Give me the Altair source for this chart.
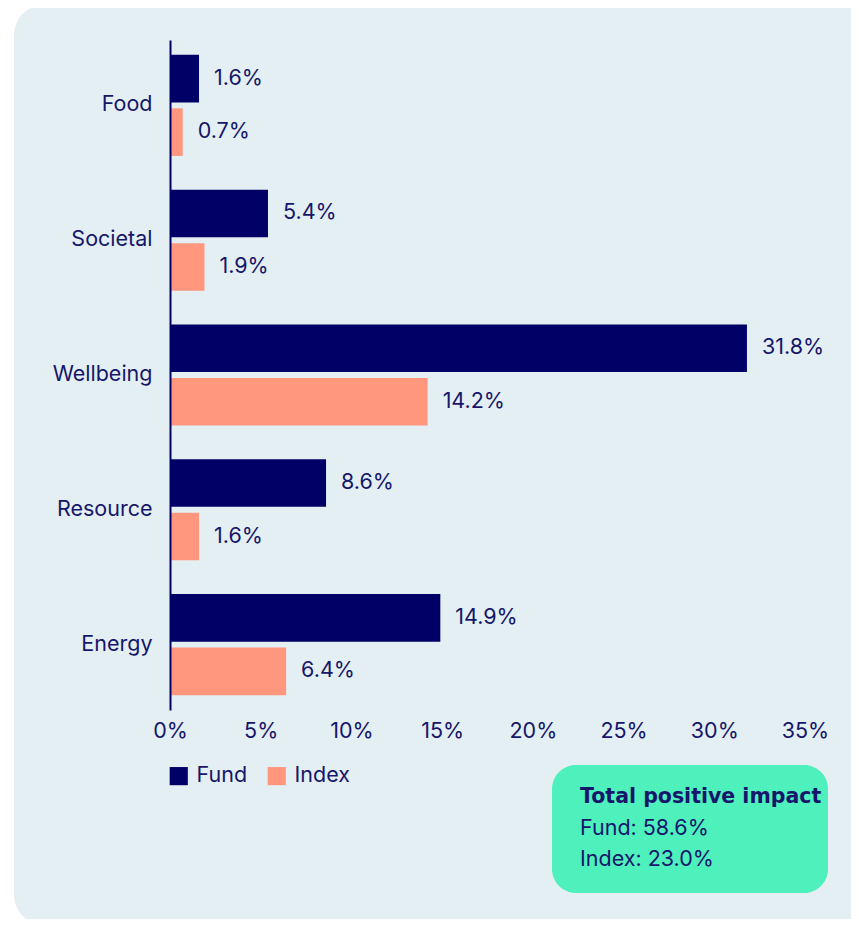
import altair as alt
import pandas as pd

categories = ["Food", "Societal", "Wellbeing", "Resource", "Energy"]
fund_values = [1.6, 5.4, 31.8, 8.6, 14.9]
index_values = [0.7, 1.9, 14.2, 1.6, 6.4]
series_names = ["Fund", "Index"]
x_ticks = [0, 5, 10, 15, 20, 25, 30, 35]
box_lines = ["Total positive impact", "Fund: 58.6%", "Index: 23.0%"]

NAVY = "#000066"
TEXT = "#16166B"
SALMON = "#FF967E"
PANEL = "#E4EFF3"
GREEN = "#4EF0BC"
FONT = "Inter"
FS = 21.5

rows = []
for c, f, i in zip(categories, fund_values, index_values):
    rows.append({"category": c, "series": "Fund", "value": f})
    rows.append({"category": c, "series": "Index", "value": i})
df = pd.DataFrame(rows)

W, H = 635, 670

y_enc = alt.Y("category:N", sort=categories,
              scale=alt.Scale(paddingInner=0.25, paddingOuter=0.11),
              axis=alt.Axis(title=None, labelFontSize=FS, labelColor=TEXT, labelFont=FONT,
                            labelPadding=18, ticks=False, domainColor=NAVY, domainWidth=2,
                            zindex=1))
x_enc = alt.X("value:Q", scale=alt.Scale(domain=[0, 35], nice=False),
              axis=alt.Axis(title=None, values=x_ticks, labelExpr="datum.value + '%'",
                            labelFontSize=FS, labelColor=TEXT, labelFont=FONT,
                            labelFlush=False, labelOverlap=False,
                            domain=False, ticks=False, grid=False, labelPadding=10,
                            zindex=1))
yoff = alt.YOffset("series:N", sort=series_names,
                   scale=alt.Scale(paddingInner=0.11, paddingOuter=0))
color_enc = alt.Color("series:N", sort=series_names,
                      scale=alt.Scale(domain=series_names, range=[NAVY, SALMON]),
                      legend=alt.Legend(title=None, orient="none", legendX=-2, legendY=725,
                                        direction="horizontal", symbolType="square",
                                        symbolSize=330, symbolStrokeWidth=0,
                                        labelFontSize=FS, labelColor=TEXT, labelFont=FONT,
                                        columnPadding=18, labelOffset=7, zindex=1))

base = alt.Chart(df)

panel = alt.Chart(pd.DataFrame({"k": [0]})).mark_rect(
    color=PANEL, cornerRadius=30
).encode(x=alt.value(-156), x2=alt.value(900), y=alt.value(-35), y2=alt.value(885))

bars = base.mark_bar().encode(y=y_enc, x=x_enc, yOffset=yoff, color=color_enc)

labels = base.transform_calculate(
    label="format(datum.value, '.1f') + '%'"
).mark_text(align="left", baseline="middle", dx=15, fontSize=FS, font=FONT, color=TEXT).encode(
    y=alt.Y("category:N", sort=categories), x="value:Q",
    yOffset=alt.YOffset("series:N", sort=series_names), text="label:N")

box = alt.Chart(pd.DataFrame({"k": [0]})).mark_rect(
    color=GREEN, cornerRadius=24
).encode(x=alt.value(382), x2=alt.value(658), y=alt.value(725), y2=alt.value(853))

box_df = pd.DataFrame({"line": box_lines})
box_title = alt.Chart(box_df.iloc[[0]]).mark_text(
    align="left", baseline="middle", fontSize=20.5, font="DejaVu Sans", color=TEXT, fontWeight="bold"
).encode(x=alt.value(410), y=alt.value(757), text="line:N")
box_l1 = alt.Chart(box_df.iloc[[1]]).mark_text(
    align="left", baseline="middle", fontSize=FS, font=FONT, color=TEXT
).encode(x=alt.value(410), y=alt.value(789), text="line:N")
box_l2 = alt.Chart(box_df.iloc[[2]]).mark_text(
    align="left", baseline="middle", fontSize=FS, font=FONT, color=TEXT
).encode(x=alt.value(410), y=alt.value(820), text="line:N")

chart = alt.layer(panel, bars, labels, box, box_title, box_l1, box_l2).properties(
    width=W, height=H,
    autosize=alt.AutoSizeParams(type="none"),
    padding={"left": 162, "top": 32, "right": 46, "bottom": 209},
    background="#ffffff",
).configure_view(stroke=None)

chart.save("out.html", embed_options={"renderer": "svg", "actions": False})
